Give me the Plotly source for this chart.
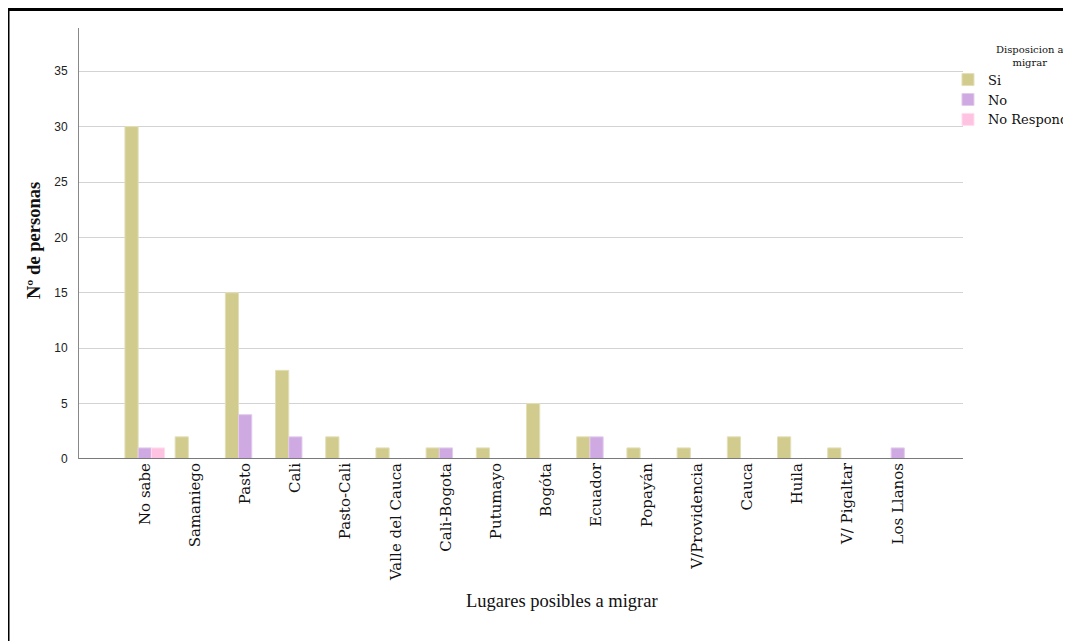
import plotly.graph_objects as go

categories = ["No sabe", "Samaniego", "Pasto", "Cali", "Pasto-Cali", "Valle del Cauca",
              "Cali-Bogota", "Putumayo", "Bogóta", "Ecuador", "Popayán", "V/Providencia",
              "Cauca", "Huila", "V/ Pigaltar", "Los Llanos"]
si_vals = [30, 2, 15, 8, 2, 1, 1, 1, 5, 2, 1, 1, 2, 2, 1, 0]
no_vals = [1, 0, 4, 2, 0, 0, 1, 0, 0, 2, 0, 0, 0, 0, 0, 1]
nr_vals = [1, 0, 0, 0, 0, 0, 0, 0, 0, 0, 0, 0, 0, 0, 0, 0]
series_names = ["Si", "No", "No Responde"]
y_ticks = [0, 5, 10, 15, 20, 25, 30, 35]

colors = ["#D1CB8D", "#CFA9E1", "#FFC3E2"]
edge = ["#E3DFB8", "#E2CCEC", "#FFDDEE"]

fig = go.Figure()
for name, vals, c, e in zip(series_names, [si_vals, no_vals, nr_vals], colors, edge):
    fig.add_trace(go.Bar(x=categories, y=vals, name=name,
                         marker=dict(color=c, line=dict(color=e, width=1))))

serif = "Liberation Serif, Times New Roman, serif"
wserif = "DejaVu Serif, serif"
sans = "Liberation Sans, Arial, sans-serif"

# page body adds an 8px offset; margins compensate so the plot sits at 79..963 x 28..459
fig.update_layout(
    width=1071, height=641,
    margin=dict(l=71, r=116, t=20, b=190, autoexpand=False),
    paper_bgcolor="white", plot_bgcolor="white",
    barmode="group", bargap=0.21, bargroupgap=0.0,
    showlegend=True,
    legend=dict(x=0.983, y=0.915, xanchor="left", yanchor="top",
                font=dict(family=wserif, size=13, color="#111"),
                bgcolor="rgba(0,0,0,0)", tracegroupgap=0, itemwidth=30),
    xaxis=dict(range=[-1.31, 16.3], tickangle=-90, showgrid=False,
               tickfont=dict(family=wserif, size=15, color="#111"),
               showline=False, ticks="", zeroline=False, automargin=False),
    yaxis=dict(range=[0, 38.9], tickvals=y_ticks, showgrid=True,
               gridcolor="#D3D3D3", gridwidth=1,
               tickfont=dict(family=sans, size=12, color="#222"),
               showline=True, linecolor="#888", linewidth=1,
               ticks="", zeroline=False, ticklabelstandoff=8, automargin=False),
    shapes=[
        dict(type="line", xref="paper", yref="y", x0=0, x1=1, y0=0, y1=0,
             line=dict(color="#7A7A7A", width=2)),
        dict(type="rect", xref="paper", yref="paper", x0=-0.0803, x1=1.3,
             y0=-0.6, y1=1.0429, line=dict(color="black", width=3),
             fillcolor="rgba(0,0,0,0)", layer="above"),
    ],
    annotations=[
        dict(text="Lugares posibles a migrar", xref="paper", yref="paper",
             x=(562 - 79) / 884, y=(459 - 601) / 431, xanchor="center", yanchor="middle",
             showarrow=False, font=dict(family=serif, size=18.5, color="#111")),
        dict(text="<b>Nº de personas</b>", xref="paper", yref="paper",
             x=(34 - 79) / 884, y=(459 - 241) / 431, xanchor="center", yanchor="middle",
             textangle=-90, showarrow=False, font=dict(family=serif, size=18.5, color="#111")),
        dict(text="Disposicion a<br>migrar", xref="paper", yref="paper",
             x=(1030 - 79) / 884, y=(459 - 56) / 431, xanchor="center", yanchor="middle",
             showarrow=False, font=dict(family=wserif, size=10, color="#111")),
    ],
)

fig.write_html("out.html")
